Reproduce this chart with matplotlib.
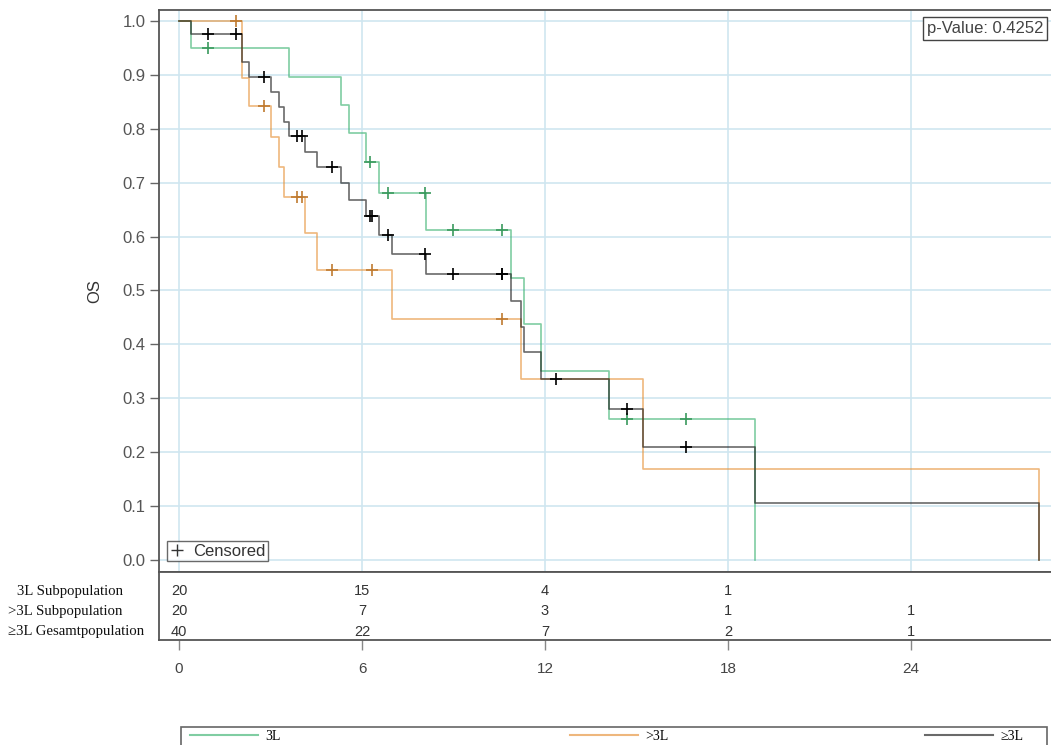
import matplotlib
matplotlib.use("Agg")
import matplotlib.pyplot as plt
from matplotlib.lines import Line2D
from matplotlib.patches import Rectangle
import numpy as np

# Kaplan-Meier step points (months, survival after the step)
t_3l = [0, 0.38, 3.6, 5.31, 5.58, 6.13, 6.56, 8.09, 10.87, 11.31, 11.87, 14.11, 18.9]
s_3l = [1.0, 0.95, 0.897, 0.844, 0.792, 0.739, 0.681, 0.613, 0.524, 0.438, 0.351, 0.262, 0.0]
c_3l = [0.94, 6.26, 6.86, 8.07, 8.99, 10.59, 14.7, 16.62]

t_gt3l = [0, 2.05, 2.3, 3.0, 3.29, 3.45, 4.13, 4.53, 6.97, 11.2, 15.22, 28.2]
s_gt3l = [1.0, 0.895, 0.842, 0.785, 0.729, 0.673, 0.607, 0.538, 0.448, 0.335, 0.168, 0.0]
c_gt3l = [1.86, 2.79, 3.88, 4.02, 5.03, 6.32, 10.6]

t_ge3l = [0, 0.38, 2.05, 2.3, 3.0, 3.29, 3.45, 3.6, 4.13, 4.53, 5.31, 5.58, 6.13, 6.56,
          6.97, 8.09, 10.87, 11.2, 11.31, 11.87, 14.11, 15.22, 18.9, 28.2]
s_ge3l = [1.0, 0.975, 0.923, 0.897, 0.869, 0.841, 0.813, 0.787, 0.757, 0.730, 0.699, 0.668,
          0.638, 0.603, 0.568, 0.530, 0.481, 0.433, 0.385, 0.336, 0.281, 0.210, 0.105, 0.0]
c_ge3l = [0.94, 1.86, 2.79, 3.88, 4.02, 5.03, 6.26, 6.34, 6.86, 8.07, 8.99, 10.59, 10.6,
          12.35, 14.7, 16.62]

# numbers at risk
risk_times = [0, 6, 12, 18, 24]
risk_3l = [20, 15, 4, 1, None]
risk_gt3l = [20, 7, 3, 1, 1]
risk_ge3l = [40, 22, 7, 2, 1]
row_names = ["3L Subpopulation", ">3L Subpopulation", "\u22653L Gesamtpopulation"]
legend_names = ["3L", ">3L", "\u22653L"]
p_value = 0.4252

W, H = 1051, 745
fig = plt.figure(figsize=(W / 100, H / 100), dpi=100)
plt.rcParams['font.family'] = ['Liberation Sans', 'DejaVu Sans']
serif = ["Liberation Serif", "DejaVu Serif"]

ax = fig.add_axes([159 / W, 1 - 572 / H, (1063.5 - 159) / W, (572 - 10) / H])
ax.set_xlim(-0.656, 29.0)
ax.set_ylim(-0.0223, 1.0204)

grid_c = "#cfe6f0"
for x in risk_times:
    ax.axvline(x, color=grid_c, lw=1.2, zorder=0)
for y in np.arange(0, 1.01, 0.1):
    ax.axhline(y, color=grid_c, lw=1.2, zorder=0)

groups = [
    (t_3l, s_3l, c_3l, "#3cb371", "#3a9a5e"),
    (t_gt3l, s_gt3l, c_gt3l, "#e69138", "#bf7a30"),
    (t_ge3l, s_ge3l, c_ge3l, "#1a1a1a", "#000000"),
]
for t, s, c, col, mcol in groups:
    ax.step(t, s, where="post", color=col, alpha=0.65, lw=1.2, zorder=2)
    t_arr, s_arr = np.array(t), np.array(s)
    idx = np.searchsorted(t_arr, c, side="right") - 1
    ax.plot(c, s_arr[idx], ls="none", marker="+", ms=8, mew=1.2, color=mcol, zorder=3)

ax.set_yticks(np.arange(0, 1.01, 0.1))
ax.set_yticklabels([f"{v:.1f}" for v in np.arange(0, 1.01, 0.1)])
ax.tick_params(axis="y", direction="out", length=6.5, width=1, color="#666",
               labelsize=12, labelcolor="#555", pad=3)
ax.set_xticks([])
for sp in ["left", "top", "bottom"]:
    ax.spines[sp].set_color("#555")
    ax.spines[sp].set_linewidth(1.3)
ax.spines["right"].set_visible(False)
ax.set_ylabel("OS", fontsize=12, color="#333", labelpad=15)

fig.text(927 / W, 1 - 28.5 / H, f"p-Value: {p_value}", fontsize=12, color="#444",
         va="center", ha="left",
         bbox=dict(boxstyle="square,pad=0.22", fc="white", ec="#444", lw=1.0))

cens = Line2D([], [], ls="none", marker="+", ms=8, mew=1.0, color="#333")
leg = ax.legend([cens], ["Censored"], loc="lower left", bbox_to_anchor=(8 / 904, 11 / 562),
                borderaxespad=0, frameon=True, fancybox=False, fontsize=12,
                handlelength=0.9, handletextpad=0.5, borderpad=0.15, labelcolor="#333")
leg.get_frame().set_edgecolor("#444")
leg.get_frame().set_linewidth(1.0)

# numbers-at-risk table
tab = fig.add_axes([159 / W, 1 - 640 / H, (1063.5 - 159) / W, (640 - 572) / H])
tab.set_xlim(ax.get_xlim())
tab.set_ylim(0, 1)
tab.set_yticks([])
tab.set_xticks(risk_times)
tab.set_xticklabels([str(v) for v in risk_times])
tab.tick_params(axis="x", direction="out", length=7, width=1, color="#888",
                labelsize=11, labelcolor="#444", pad=9)
for sp in ["left", "top", "bottom"]:
    tab.spines[sp].set_color("#555")
    tab.spines[sp].set_linewidth(1.3)
tab.spines["right"].set_visible(False)

row_y = [0.72, 0.426, 0.118]
for row, yy in zip([risk_3l, risk_gt3l, risk_ge3l], row_y):
    for x, n in zip(risk_times, row):
        if n is not None:
            tab.text(x, yy, str(n), ha="center", va="center", fontsize=10.5, color="#333")

row_x = [17, 8, 8]
for name, xx, yy in zip(row_names, row_x, row_y):
    py = 640 - yy * 68
    fig.text(xx / W, 1 - py / H, name, ha="left", va="center", fontsize=10.6,
             family=serif, color="#111")

# group legend along the bottom edge
fig.patches.append(Rectangle((181 / W, -0.05), (1047 - 181) / W, 0.05 + (745 - 727) / H,
                             transform=fig.transFigure, fill=False, ec="#666", lw=1.2))
entry_x = [190, 570, 925]
for name, ex, (_, _, _, col, _) in zip(legend_names, entry_x, groups):
    h = Line2D([], [], color=col, alpha=0.65, lw=1.5)
    fig.legend([h], [name], loc="center left", bbox_to_anchor=(ex / W, 1 - 736 / H),
               frameon=False, borderaxespad=0, borderpad=0, handlelength=4.9,
               handletextpad=0.5, prop=dict(family=serif, size=10))

fig.savefig("out.png", dpi=100)
